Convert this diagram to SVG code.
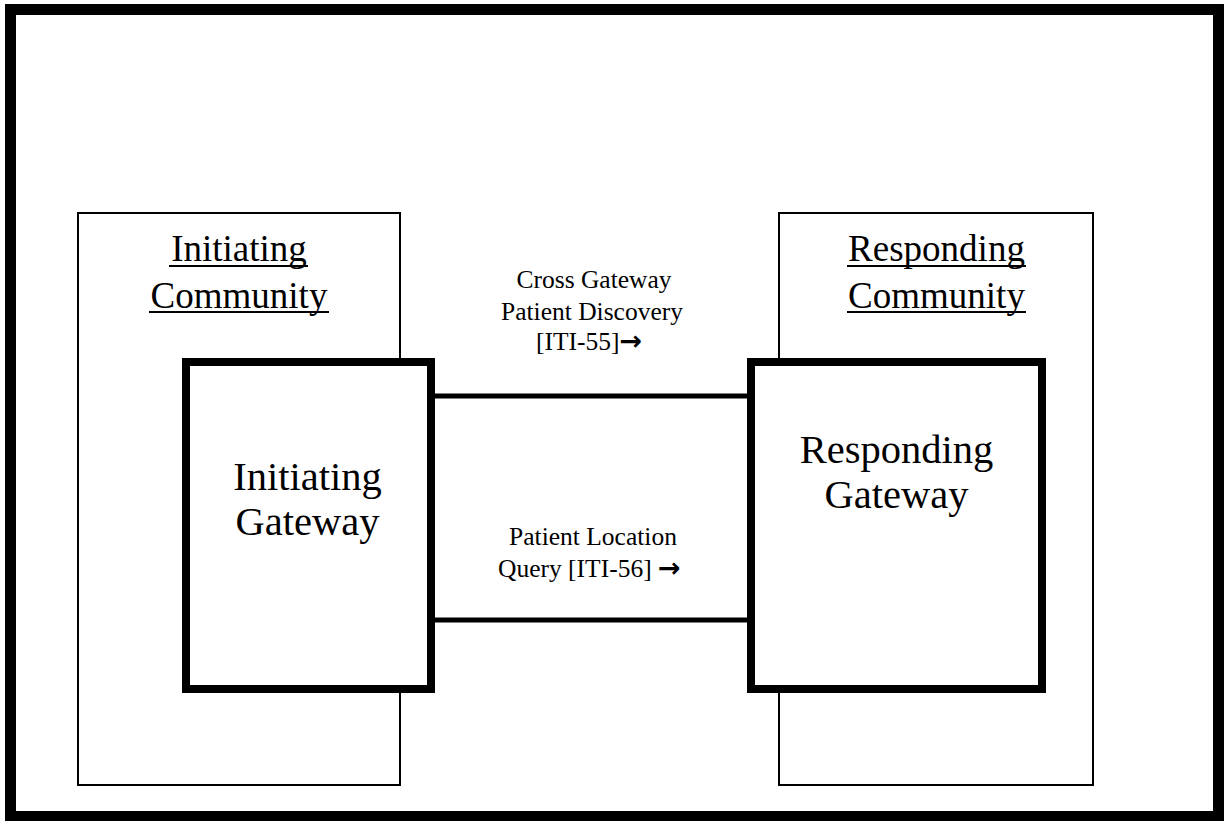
<svg xmlns="http://www.w3.org/2000/svg" width="1225" height="821" viewBox="0 0 1225 821">
<style>
.t{font-family:"Liberation Serif","Times New Roman",serif;fill:#000;text-anchor:middle}
.s{text-anchor:start}
.ar{font-family:"DejaVu Sans",sans-serif;font-size:27px;font-weight:bold}
.comm{fill:#fff;stroke:#000;stroke-width:2}
.gw{fill:#fff;stroke:#000;stroke-width:8}
.conn{stroke:#000;stroke-width:5;fill:none}
.ul{stroke:#000;stroke-width:2}
</style>
<rect width="1225" height="821" fill="#fff"/>
<rect x="10.5" y="9.5" width="1208" height="807" fill="none" stroke="#000" stroke-width="11"/>
<g id="initiating-community">
<rect class="comm" x="78" y="213" width="322" height="572"/>
<text class="t" x="239" y="261" font-size="37">Initiating</text>
<line class="ul" x1="169" y1="266" x2="308" y2="266"/>
<text class="t" x="239" y="308" font-size="37">Community</text>
<line class="ul" x1="149" y1="312" x2="329" y2="312"/>
</g>
<g id="responding-community">
<rect class="comm" x="779" y="213" width="314" height="572"/>
<text class="t" x="936.5" y="261" font-size="37">Responding</text>
<line class="ul" x1="847" y1="266" x2="1026" y2="266"/>
<text class="t" x="936.5" y="308" font-size="37">Community</text>
<line class="ul" x1="847" y1="312" x2="1026" y2="312"/>
</g>
<g id="connectors">
<line class="conn" x1="431" y1="396" x2="751" y2="396"/>
<line class="conn" x1="431" y1="620" x2="751" y2="620"/>
<text class="t" x="594" y="288" font-size="25.5">Cross Gateway</text>
<text class="t" x="592" y="320" font-size="25.5">Patient Discovery</text>
<text class="t s" x="536" y="350" font-size="25.5">[ITI-55]<tspan class="ar">→</tspan></text>
<text class="t" x="593" y="545" font-size="25.5">Patient Location</text>
<text class="t s" x="498" y="577" font-size="25.5">Query [ITI-56] <tspan class="ar">→</tspan></text>
</g>
<g id="initiating-gateway">
<rect class="gw" x="186" y="362" width="245" height="327"/>
<text class="t" x="307.5" y="490" font-size="40.5">Initiating</text>
<text class="t" x="307.5" y="535" font-size="40.5">Gateway</text>
</g>
<g id="responding-gateway">
<rect class="gw" x="751" y="362" width="291" height="327"/>
<text class="t" x="896.5" y="463" font-size="40.5">Responding</text>
<text class="t" x="896.5" y="508" font-size="40.5">Gateway</text>
</g>
</svg>
